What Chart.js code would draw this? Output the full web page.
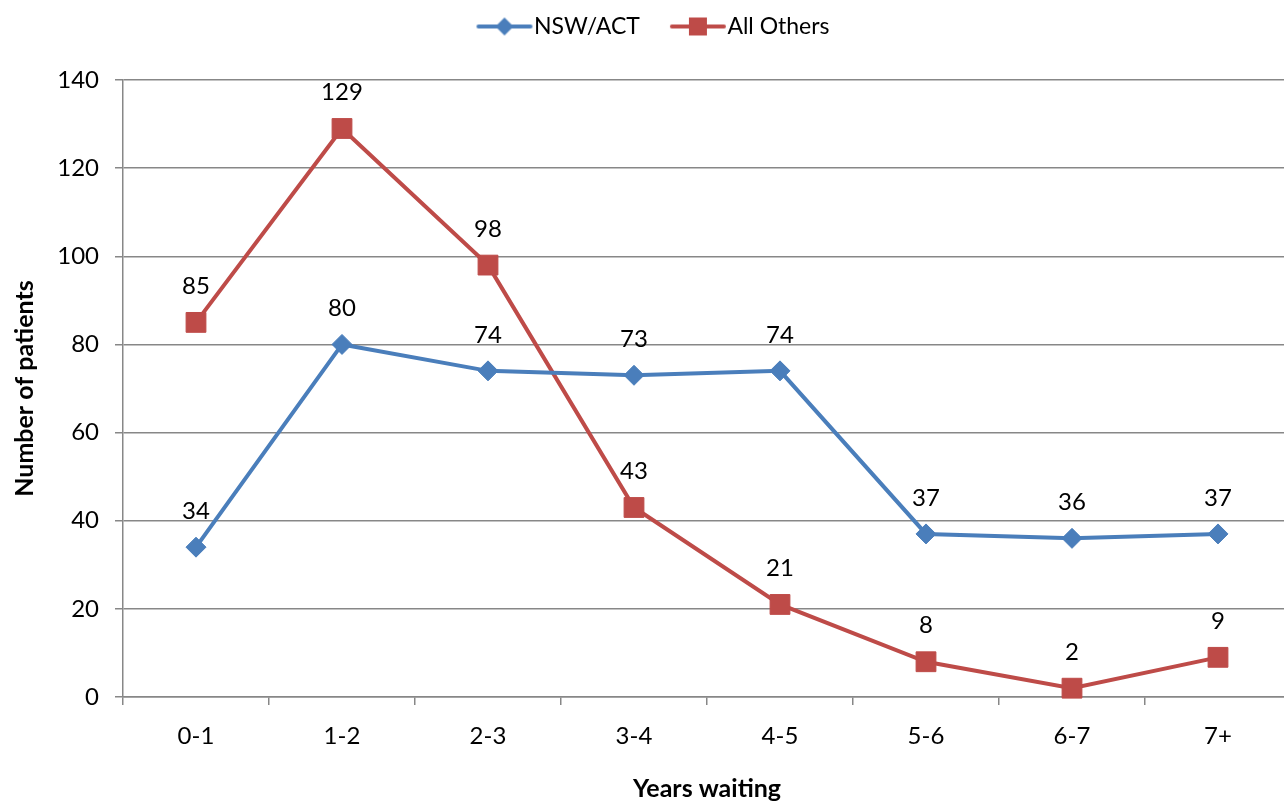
<!DOCTYPE html>
<html>
<head>
<meta charset="utf-8">
<script src="https://cdn.jsdelivr.net/npm/chart.js@4/dist/chart.umd.min.js"></script>
<style>
  html, body { margin: 0; padding: 0; background: #fff; overflow: hidden; }
  canvas { display: block; }
</style>
</head>
<body>
<canvas id="c" width="1300" height="804" style="width:1300px;height:804px"></canvas>
<script>
const categories = ['0-1', '1-2', '2-3', '3-4', '4-5', '5-6', '6-7', '7+'];
const nswAct = [34, 80, 74, 73, 74, 37, 36, 37];
const allOthers = [85, 129, 98, 43, 21, 8, 2, 9];
const seriesNames = ['NSW/ACT', 'All Others'];
const yTicks = [0, 20, 40, 60, 80, 100, 120, 140];

const BLUE = '#4A7EBB';
const RED = '#BE4B48';
const GRID = '#878787';
const FONT = 'Lato, "Open Sans", sans-serif';

function legendImage(color, shape) {
  const boxW = 61, W = boxW + 22, H = 24;
  const cv = document.createElement('canvas');
  cv.width = W; cv.height = H;
  const g = cv.getContext('2d');
  const x0 = W - 57, x1 = W - 1, cy = H / 2, cx = (x0 + x1) / 2;
  g.strokeStyle = color; g.lineWidth = 4; g.lineCap = 'round';
  g.beginPath(); g.moveTo(x0 + 2, cy); g.lineTo(x1 - 2, cy); g.stroke();
  g.fillStyle = color;
  g.beginPath();
  if (shape === 'diamond') {
    g.moveTo(cx, cy - 9); g.lineTo(cx + 9, cy); g.lineTo(cx, cy + 9); g.lineTo(cx - 9, cy);
  } else {
    g.rect(cx - 9, cy - 9, 18, 18);
  }
  g.closePath(); g.fill();
  return cv;
}
const legendImgs = [legendImage(BLUE, 'diamond'), legendImage(RED, 'square')];

const dataLabelPlugin = {
  id: 'dataLabels',
  afterDatasetsDraw(chart) {
    const ctx = chart.ctx;
    ctx.save();
    ctx.font = '24px ' + FONT;
    ctx.fillStyle = '#000';
    ctx.textAlign = 'center';
    ctx.textBaseline = 'middle';
    chart.data.datasets.forEach((ds, i) => {
      const meta = chart.getDatasetMeta(i);
      meta.data.forEach((pt, j) => {
        ctx.fillText(String(ds.data[j]), pt.x, pt.y - 36);
      });
    });
    ctx.restore();
  }
};

const legendSpacePlugin = {
  id: 'legendSpace',
  afterInit(chart) {
    const lg = chart.legend;
    if (lg && !lg._patched) {
      const orig = lg.fit;
      lg.fit = function () { orig.call(this); this.height += 32; };
      lg._patched = true;
    }
  }
};

new Chart(document.getElementById('c'), {
  type: 'line',
  data: {
    labels: categories,
    datasets: [
      {
        label: seriesNames[0], data: nswAct,
        borderColor: BLUE, backgroundColor: BLUE, borderWidth: 4,
        pointStyle: 'rectRot', pointRadius: 10, pointHoverRadius: 10,
        pointBackgroundColor: BLUE, pointBorderColor: BLUE, pointBorderWidth: 1,
        tension: 0, clip: false
      },
      {
        label: seriesNames[1], data: allOthers,
        borderColor: RED, backgroundColor: RED, borderWidth: 4,
        pointStyle: 'rect', pointRadius: 14, pointHoverRadius: 14,
        pointBackgroundColor: RED, pointBorderColor: RED, pointBorderWidth: 1,
        tension: 0, clip: false
      }
    ]
  },
  options: {
    responsive: false,
    maintainAspectRatio: false,
    animation: false,
    events: [],
    layout: { autoPadding: false, padding: { left: 0, right: 9, top: 0, bottom: 0 } },
    plugins: {
      legend: {
        position: 'top',
        align: 'center',
        labels: {
          usePointStyle: true,
          pointStyleWidth: 61,
          padding: 15,
          color: '#000',
          font: { family: FONT, size: 23 },
          generateLabels(chart) {
            return chart.data.datasets.map((ds, i) => ({
              text: ds.label,
              pointStyle: legendImgs[i],
              fillStyle: ds.borderColor,
              strokeStyle: ds.borderColor,
              lineWidth: 0,
              hidden: false,
              datasetIndex: i,
              fontColor: '#000'
            }));
          }
        }
      },
      tooltip: { enabled: false },
      title: { display: false }
    },
    scales: {
      x: {
        type: 'category',
        offset: true,
        grid: {
          display: true, offset: true, drawOnChartArea: false, drawTicks: true,
          tickLength: 8, color: GRID, lineWidth: 1.5
        },
        border: { display: true, color: GRID, width: 1.5 },
        ticks: { color: '#000', font: { family: FONT, size: 24 }, padding: 17, maxRotation: 0 },
        title: {
          display: true, text: 'Years waiting', color: '#000',
          font: { family: FONT, size: 25, weight: 'bold' }, padding: { top: 16, bottom: 0 }
        },
        afterFit(scale) { scale.height = 107; scale.paddingLeft = 0; scale.paddingRight = 0; }
      },
      y: {
        min: 0, max: 140,
        afterBuildTicks(scale) { scale.ticks = yTicks.map(v => ({ value: v })); },
        grid: { color: GRID, lineWidth: 1.5, tickLength: 8, drawTicks: true },
        border: { display: true, color: GRID, width: 1.5 },
        ticks: { color: '#000', font: { family: FONT, size: 24 }, padding: 16 },
        title: {
          display: true, text: 'Number of patients', color: '#000',
          font: { family: FONT, size: 25, weight: 'bold' }, padding: { top: 10, bottom: 0 }
        },
        afterFit(scale) { scale.width = 123; }
      }
    }
  },
  plugins: [legendSpacePlugin, dataLabelPlugin]
});
</script>
</body>
</html>
